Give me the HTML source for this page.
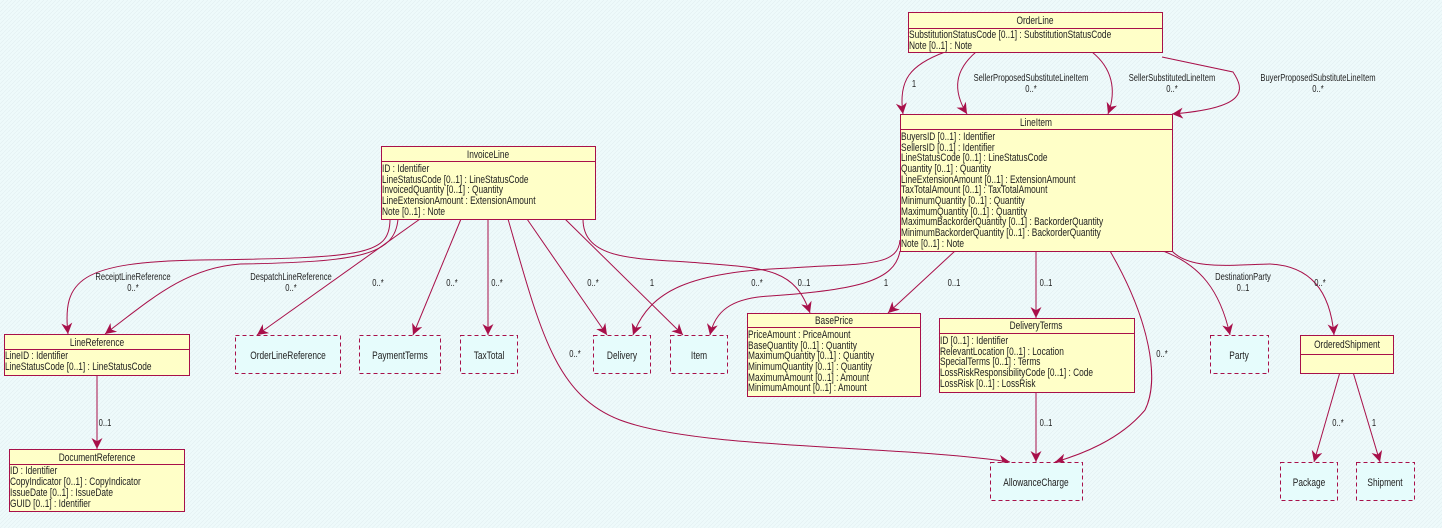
<!DOCTYPE html>
<html><head><meta charset="utf-8"><style>
html,body{margin:0;padding:0;background:#eefafb;}
svg{display:block;}
text{font-family:"Liberation Sans",sans-serif;font-size:11px;fill:#222;}
text.l{font-size:10px;}
</style></head><body>
<svg width="1442" height="528" viewBox="0 0 1442 528" xmlns="http://www.w3.org/2000/svg">
<defs>
<marker id="a" viewBox="0 0 10 10" refX="10" refY="5" markerWidth="13" markerHeight="11" orient="auto" markerUnits="userSpaceOnUse">
<path d="M0,0 L10,5 L0,10 L3,5 z" fill="#a8104a"/>
</marker>
<pattern id="h" width="4" height="4" patternUnits="userSpaceOnUse"><rect width="4" height="4" fill="#eefafb"/><path d="M0,4 L4,0" stroke="#e2eef0" stroke-width="0.6"/></pattern>
</defs>
<rect width="1442" height="528" fill="url(#h)"/>
<g fill="none" stroke="#a8104a" stroke-width="1" marker-end="url(#a)">
<path d="M945,52 C910,65 898,80 903,114"/>
<path d="M976,52 C955,70 952,90 967,114"/>
<path d="M1092,52 C1112,68 1117,90 1108,114"/>
<path d="M1162,57 L1233,72 C1245,90 1248,108 1172,114"/>
<path d="M390,219 C390,255 365,258 200,260 C80,262 62,280 68,334"/>
<path d="M398,219 C395,255 360,262 240,264 C185,268 150,300 105,334"/>
<path d="M420,219 L257,335"/>
<path d="M461,219 L413,335"/>
<path d="M488,219 L488,335"/>
<path d="M508,219 C540,330 555,395 620,420 C700,450 900,445 1010,462"/>
<path d="M527,219 L607,335"/>
<path d="M565,219 L683,335"/>
<path d="M583,219 C583,262 640,258 700,263 C770,268 795,270 810,313"/>
<path d="M900,240 C898,268 860,263 790,268 C690,272 650,290 633,335"/>
<path d="M900,251 C895,280 860,290 770,296 C730,298 715,312 710,335"/>
<path d="M955,251 L888,313"/>
<path d="M1036,251 L1036,318"/>
<path d="M1110,251 C1150,320 1160,380 1145,410 C1120,440 1080,455 1055,462"/>
<path d="M1036,392 L1036,462"/>
<path d="M1163,251 C1200,265 1220,290 1230,335"/>
<path d="M1172,251 C1190,270 1230,265 1270,264 C1310,266 1330,290 1334,335"/>
<path d="M1340,372 L1314,462"/>
<path d="M1353,372 L1380,462"/>
<path d="M97,375 L97,449"/>
</g>
<g stroke="#a8104a" stroke-width="1" fill="#ffffc8">
<rect x="908.5" y="12.5" width="254" height="40"/><line x1="908" y1="28.5" x2="1163" y2="28.5"/>
<rect x="900.5" y="114.5" width="272" height="137"/><line x1="900" y1="129.5" x2="1173" y2="129.5"/>
<rect x="381.5" y="146.5" width="214" height="73"/><line x1="381" y1="161.5" x2="596" y2="161.5"/>
<rect x="4.5" y="334.5" width="185" height="41"/><line x1="4" y1="349.5" x2="190" y2="349.5"/>
<rect x="9.5" y="449.5" width="175" height="62"/><line x1="9" y1="464.5" x2="185" y2="464.5"/>
<rect x="747.5" y="313.5" width="173" height="83"/><line x1="747" y1="327.5" x2="921" y2="327.5"/>
<rect x="939.5" y="318.5" width="195" height="74"/><line x1="939" y1="333.5" x2="1135" y2="333.5"/>
<rect x="1300.5" y="335.5" width="93" height="38"/><line x1="1300" y1="354.5" x2="1394" y2="354.5"/>
</g>
<g stroke="#a8104a" stroke-width="1" fill="#e6fcfc" stroke-dasharray="4,3">
<rect x="235.5" y="335.5" width="105" height="38"/>
<rect x="359.5" y="335.5" width="81" height="38"/>
<rect x="460.5" y="335.5" width="57" height="38"/>
<rect x="593.5" y="335.5" width="57" height="38"/>
<rect x="670.5" y="335.5" width="57" height="38"/>
<rect x="1210.5" y="335.5" width="58" height="38"/>
<rect x="990.5" y="462.5" width="92" height="38"/>
<rect x="1280.5" y="462.5" width="57" height="38"/>
<rect x="1356.5" y="462.5" width="58" height="38"/>
</g>
<g text-anchor="middle">
<text transform="translate(1035,24) scale(.76,1)">OrderLine</text>
<text transform="translate(1036,126) scale(.76,1)">LineItem</text>
<text transform="translate(488,158) scale(.76,1)">InvoiceLine</text>
<text transform="translate(97,346) scale(.76,1)">LineReference</text>
<text transform="translate(97,461) scale(.76,1)">DocumentReference</text>
<text transform="translate(834,324) scale(.76,1)">BasePrice</text>
<text transform="translate(1036,329) scale(.76,1)">DeliveryTerms</text>
<text transform="translate(1347,348) scale(.76,1)">OrderedShipment</text>
<text transform="translate(288,359) scale(.76,1)">OrderLineReference</text>
<text transform="translate(400,359) scale(.76,1)">PaymentTerms</text>
<text transform="translate(489,359) scale(.76,1)">TaxTotal</text>
<text transform="translate(622,359) scale(.76,1)">Delivery</text>
<text transform="translate(699,359) scale(.76,1)">Item</text>
<text transform="translate(1239,359) scale(.76,1)">Party</text>
<text transform="translate(1036,486) scale(.76,1)">AllowanceCharge</text>
<text transform="translate(1309,486) scale(.76,1)">Package</text>
<text transform="translate(1385,486) scale(.76,1)">Shipment</text>
</g>
<g>
<text transform="translate(909,38) scale(.76,1)">SubstitutionStatusCode [0..1] : SubstitutionStatusCode</text>
<text transform="translate(909,49) scale(.76,1)">Note [0..1] : Note</text>

<text transform="translate(901,140) scale(.76,1)">BuyersID [0..1] : Identifier</text>
<text transform="translate(901,151) scale(.76,1)">SellersID [0..1] : Identifier</text>
<text transform="translate(901,161) scale(.76,1)">LineStatusCode [0..1] : LineStatusCode</text>
<text transform="translate(901,172) scale(.76,1)">Quantity [0..1] : Quantity</text>
<text transform="translate(901,183) scale(.76,1)">LineExtensionAmount [0..1] : ExtensionAmount</text>
<text transform="translate(901,193) scale(.76,1)">TaxTotalAmount [0..1] : TaxTotalAmount</text>
<text transform="translate(901,204) scale(.76,1)">MinimumQuantity [0..1] : Quantity</text>
<text transform="translate(901,215) scale(.76,1)">MaximumQuantity [0..1] : Quantity</text>
<text transform="translate(901,225) scale(.76,1)">MaximumBackorderQuantity [0..1] : BackorderQuantity</text>
<text transform="translate(901,236) scale(.76,1)">MinimumBackorderQuantity [0..1] : BackorderQuantity</text>
<text transform="translate(901,247) scale(.76,1)">Note [0..1] : Note</text>

<text transform="translate(382,172) scale(.76,1)">ID : Identifier</text>
<text transform="translate(382,183) scale(.76,1)">LineStatusCode [0..1] : LineStatusCode</text>
<text transform="translate(382,193) scale(.76,1)">InvoicedQuantity [0..1] : Quantity</text>
<text transform="translate(382,204) scale(.76,1)">LineExtensionAmount : ExtensionAmount</text>
<text transform="translate(382,215) scale(.76,1)">Note [0..1] : Note</text>

<text transform="translate(5,359) scale(.76,1)">LineID : Identifier</text>
<text transform="translate(5,370) scale(.76,1)">LineStatusCode [0..1] : LineStatusCode</text>

<text transform="translate(10,474) scale(.76,1)">ID : Identifier</text>
<text transform="translate(10,485) scale(.76,1)">CopyIndicator [0..1] : CopyIndicator</text>
<text transform="translate(10,496) scale(.76,1)">IssueDate [0..1] : IssueDate</text>
<text transform="translate(10,507) scale(.76,1)">GUID [0..1] : Identifier</text>

<text transform="translate(748,338) scale(.76,1)">PriceAmount : PriceAmount</text>
<text transform="translate(748,349) scale(.76,1)">BaseQuantity [0..1] : Quantity</text>
<text transform="translate(748,359) scale(.76,1)">MaximumQuantity [0..1] : Quantity</text>
<text transform="translate(748,370) scale(.76,1)">MinimumQuantity [0..1] : Quantity</text>
<text transform="translate(748,381) scale(.76,1)">MaximumAmount [0..1] : Amount</text>
<text transform="translate(748,391) scale(.76,1)">MinimumAmount [0..1] : Amount</text>

<text transform="translate(940,344) scale(.76,1)">ID [0..1] : Identifier</text>
<text transform="translate(940,355) scale(.76,1)">RelevantLocation [0..1] : Location</text>
<text transform="translate(940,365) scale(.76,1)">SpecialTerms [0..1] : Terms</text>
<text transform="translate(940,376) scale(.76,1)">LossRiskResponsibilityCode [0..1] : Code</text>
<text transform="translate(940,387) scale(.76,1)">LossRisk [0..1] : LossRisk</text>
</g>
<g text-anchor="middle">
<text class="l" transform="translate(914,87) scale(.76,1)">1</text>
<text class="l" transform="translate(1031,81) scale(.76,1)">SellerProposedSubstituteLineItem</text><text class="l" transform="translate(1031,92) scale(.76,1)">0..*</text>
<text class="l" transform="translate(1172,81) scale(.76,1)">SellerSubstitutedLineItem</text><text class="l" transform="translate(1172,92) scale(.76,1)">0..*</text>
<text class="l" transform="translate(1318,81) scale(.76,1)">BuyerProposedSubstituteLineItem</text><text class="l" transform="translate(1318,92) scale(.76,1)">0..*</text>
<text class="l" transform="translate(133,280) scale(.76,1)">ReceiptLineReference</text><text class="l" transform="translate(133,291) scale(.76,1)">0..*</text>
<text class="l" transform="translate(291,280) scale(.76,1)">DespatchLineReference</text><text class="l" transform="translate(291,291) scale(.76,1)">0..*</text>
<text class="l" transform="translate(378,286) scale(.76,1)">0..*</text>
<text class="l" transform="translate(452,286) scale(.76,1)">0..*</text>
<text class="l" transform="translate(497,286) scale(.76,1)">0..*</text>
<text class="l" transform="translate(593,286) scale(.76,1)">0..*</text>
<text class="l" transform="translate(652,286) scale(.76,1)">1</text>
<text class="l" transform="translate(757,286) scale(.76,1)">0..*</text>
<text class="l" transform="translate(804,286) scale(.76,1)">0..1</text>
<text class="l" transform="translate(886,286) scale(.76,1)">1</text>
<text class="l" transform="translate(954,286) scale(.76,1)">0..1</text>
<text class="l" transform="translate(1046,286) scale(.76,1)">0..1</text>
<text class="l" transform="translate(1243,280) scale(.76,1)">DestinationParty</text><text class="l" transform="translate(1243,291) scale(.76,1)">0..1</text>
<text class="l" transform="translate(1320,286) scale(.76,1)">0..*</text>
<text class="l" transform="translate(575,357) scale(.76,1)">0..*</text>
<text class="l" transform="translate(1162,357) scale(.76,1)">0..*</text>
<text class="l" transform="translate(105,426) scale(.76,1)">0..1</text>
<text class="l" transform="translate(1046,426) scale(.76,1)">0..1</text>
<text class="l" transform="translate(1338,426) scale(.76,1)">0..*</text>
<text class="l" transform="translate(1374,426) scale(.76,1)">1</text>
</g>
</svg>
</body></html>
